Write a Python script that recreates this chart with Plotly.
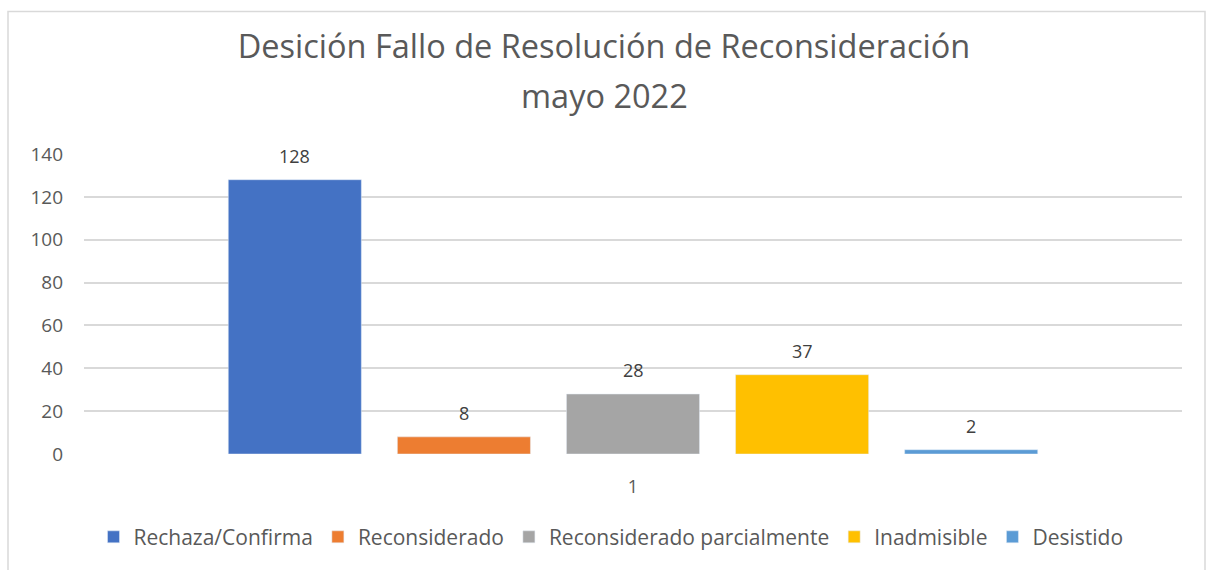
import plotly.graph_objects as go

categories = ["1"]
series_names = ["Rechaza/Confirma", "Reconsiderado", "Reconsiderado parcialmente", "Inadmisible", "Desistido"]
series_values = [128, 8, 28, 37, 2]
series_colors = ["#4472C4", "#ED7D31", "#A5A5A5", "#FFC000", "#5B9BD5"]
y_ticks = [0, 20, 40, 60, 80, 100, 120, 140]
title_line1 = "Desición Fallo de Resolución de Reconsideración"
title_line2 = "mayo 2022"

FONT = "Open Sans"
L, R, T, B = 84, 24, 154, 113
W, H = 1206, 570
pw, ph = W - L - R, H - T - B
BARGAP, BARGROUPGAP = 0.23, 0.213
slot_px = pw * (1 - BARGAP) / len(series_names)

def px_x(x):
    return (x - L) / pw

def px_y(y):
    return (H - B - y) / ph

fig = go.Figure()
annotations = []
n = len(series_names)
for i, (name, val, col) in enumerate(zip(series_names, series_values, series_colors)):
    fig.add_trace(go.Bar(x=categories, y=[val], name=name, marker_color=col))
    annotations.append(dict(
        x=0, y=val, xref="x", yref="y", text=str(val), showarrow=False,  # x=0 -> index of categories[0]
        xshift=(i - (n - 1) / 2) * slot_px, yshift=24, yanchor="middle",
        font=dict(family=FONT, size=18, color="#404040"),
    ))

annotations.append(dict(
    x=px_x(604), y=px_y(95), xref="paper", yref="paper", text=title_line2, showarrow=False,
    xanchor="center", yanchor="middle", font=dict(family=FONT, size=32.5, color="#595959"),
))

fig.update_layout(
    width=W, height=H,
    margin=dict(l=L, r=R, t=T, b=B),
    paper_bgcolor="white", plot_bgcolor="white",
    barmode="group", bargap=BARGAP, bargroupgap=BARGROUPGAP,
    title=dict(text=title_line1,
               x=604 / W, xanchor="center", xref="container",
               y=1 - 47 / H, yanchor="middle", yref="container",
               font=dict(family=FONT, size=32.5, color="#595959")),
    font=dict(family=FONT, size=18, color="#595959"),
    showlegend=True,
    legend=dict(orientation="h", x=px_x(611), xanchor="center", y=px_y(541), yanchor="middle",
                font=dict(family=FONT, size=21, color="#595959"), itemwidth=30,
                traceorder="normal"),
    xaxis=dict(type="category", range=[-0.5, 0.5], showgrid=False, showline=False, ticks="",
               ticklabelstandoff=20, tickfont=dict(size=18, color="#595959")),
    yaxis=dict(range=[0, 140], tickvals=y_ticks, showgrid=True, gridcolor="#D9D9D9", gridwidth=1.5,
               zeroline=False, showline=False, ticks="", ticklabelstandoff=20,
               tickfont=dict(size=19, color="#595959")),
    annotations=annotations,
    shapes=[dict(type="rect", xref="paper", yref="paper",
                 x0=px_x(8), x1=px_x(1205), y0=px_y(585), y1=px_y(10),
                 line=dict(color="#D9D9D9", width=1.5), fillcolor="rgba(0,0,0,0)", layer="below")],
)
fig.write_html("out.html", config={"displayModeBar": False},
               post_script="document.body.style.margin='0px';")
